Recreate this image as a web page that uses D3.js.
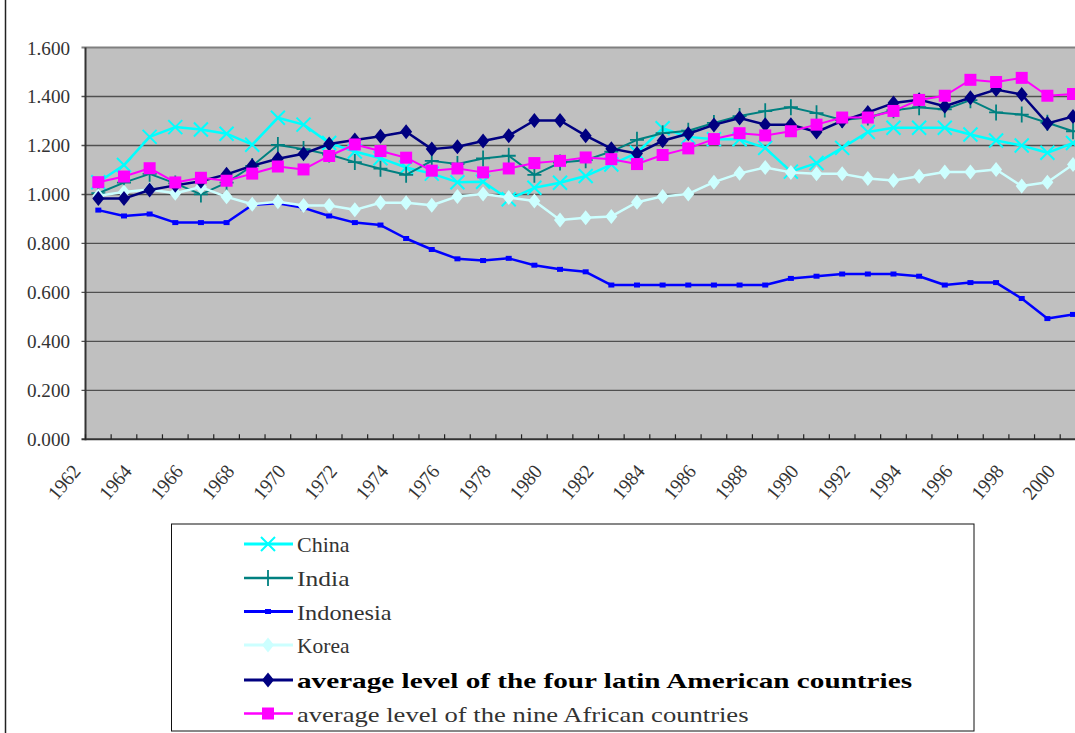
<!DOCTYPE html>
<html>
<head>
<meta charset="utf-8">
<title>Relative level chart</title>
<script src="https://d3js.org/d3.v7.min.js" charset="utf-8"></script>
<style>
  body { margin: 0; background: #fff; }
  svg { display: block; }
  .lbl { font-family: "Liberation Serif", "DejaVu Serif", serif; fill: #333; }
</style>
</head>
<body>
<script type="text/javascript">
// ---- data ----
var years = d3.range(1962, 2001);
var tickYears = years.filter(function(y) { return (y - 1962) % 2 === 0; });
var yTicks = [0, 0.2, 0.4, 0.6, 0.8, 1.0, 1.2, 1.4, 1.6];

var seriesNames = ["China", "India", "Indonesia", "Korea",
  "average level of the four latin American countries",
  "average level of the nine African countries"];

var china = [1.05, 1.12, 1.235, 1.275, 1.265, 1.248, 1.203, 1.313, 1.285, 1.21,
  1.175, 1.148, 1.11, 1.085, 1.05, 1.052, 0.98, 1.027, 1.048, 1.075,
  1.122, 1.17, 1.27, 1.235, 1.225, 1.225, 1.19, 1.093, 1.128, 1.19,
  1.255, 1.272, 1.272, 1.272, 1.245, 1.22, 1.2, 1.17, 1.21];
var india = [1.005, 1.048, 1.084, 1.045, 1.0, 1.048, 1.116, 1.202, 1.185, 1.163,
  1.132, 1.105, 1.08, 1.137, 1.124, 1.147, 1.158, 1.08, 1.13, 1.14,
  1.175, 1.223, 1.25, 1.26, 1.292, 1.32, 1.34, 1.356, 1.332, 1.304,
  1.314, 1.344, 1.356, 1.347, 1.385, 1.335, 1.326, 1.293, 1.258];
var indonesia = [0.936, 0.912, 0.92, 0.885, 0.885, 0.885, 0.957, 0.964, 0.945, 0.912,
  0.885, 0.875, 0.82, 0.775, 0.737, 0.73, 0.739, 0.711, 0.694, 0.684,
  0.63, 0.63, 0.63, 0.63, 0.63, 0.63, 0.63, 0.657, 0.666, 0.675,
  0.675, 0.675, 0.666, 0.63, 0.64, 0.64, 0.575, 0.493, 0.51];
var korea = [0.995, 1.01, 1.02, 1.005, 1.03, 0.99, 0.96, 0.97, 0.955, 0.955,
  0.937, 0.966, 0.966, 0.956, 0.992, 1.002, 0.987, 0.973, 0.896, 0.905,
  0.91, 0.968, 0.992, 1.002, 1.05, 1.086, 1.11, 1.09, 1.084, 1.084,
  1.065, 1.057, 1.074, 1.092, 1.092, 1.102, 1.034, 1.05, 1.122];
var latin = [0.983, 0.983, 1.018, 1.037, 1.054, 1.082, 1.117, 1.146, 1.166, 1.206,
  1.222, 1.238, 1.256, 1.185, 1.195, 1.218, 1.24, 1.302, 1.302, 1.24,
  1.187, 1.167, 1.219, 1.248, 1.284, 1.312, 1.285, 1.285, 1.255, 1.3,
  1.335, 1.373, 1.387, 1.36, 1.395, 1.428, 1.408, 1.29, 1.318];
var african = [1.05, 1.073, 1.107, 1.049, 1.068, 1.056, 1.085, 1.114, 1.102, 1.157,
  1.204, 1.177, 1.15, 1.097, 1.106, 1.09, 1.106, 1.128, 1.137, 1.151,
  1.144, 1.124, 1.161, 1.188, 1.226, 1.25, 1.241, 1.258, 1.285, 1.314,
  1.314, 1.341, 1.386, 1.403, 1.468, 1.459, 1.476, 1.403, 1.41];

var seriesValues = [china, india, indonesia, korea, latin, african];
var seriesColors = ["#00ffff", "#008080", "#0000ff", "#ccffff", "#000080", "#ff00ff"];
var seriesMarkers = ["x", "plus", "dash", "diamond", "diamond", "square"];
var seriesWidths = [2.5, 2, 2.5, 2.5, 2.5, 2];

// ---- layout ----
var W = 1075, H = 733;
var plotL = 85.5, plotT = 47.5, plotB = 439.3;
var band = 25.65;
var plotR = plotL + band * years.length;

var svg = d3.select("body").append("svg").attr("width", W).attr("height", H);

var x = d3.scaleBand().domain(years).range([plotL, plotR]);
var y = d3.scaleLinear().domain([0, 1.6]).range([plotB, plotT]);

function gpos(px, py) {
  return "translate(" + px + "," + py + ")";
}

function markerPath(kind) {
  if (kind == "x") return "M-7,-7L7,7M-7,7L7,-7";
  if (kind == "plus") return "M-7,0L7,0M0,-8L0,8";
  if (kind == "dash") return "M-3,-2.5H3V2.5H-3Z";
  if (kind == "diamond") return "M0,-7.5L6,0L0,7.5L-6,0Z";
  return "M-6,-6H6V6H-6Z";
}

function drawMarker(g, kind, color) {
  var p = g.append("path").attr("d", markerPath(kind));
  if (kind == "x" || kind == "plus") {
    p.attr("fill", "none").attr("stroke", color).attr("stroke-width", kind == "x" ? 2 : 1.8);
  } else {
    p.attr("fill", color).attr("stroke", "none");
  }
  return p;
}

// chart border on the left edge
svg.append("line").attr("x1", 5.5).attr("x2", 5.5).attr("y1", 0).attr("y2", H)
  .attr("stroke", "#222").attr("stroke-width", 1.5);

// plot background
svg.append("rect").attr("x", plotL).attr("y", plotT)
  .attr("width", plotR - plotL).attr("height", plotB - plotT)
  .attr("fill", "#c0c0c0");

// gridlines + y labels
svg.append("g").selectAll("line").data(yTicks.slice(1)).enter().append("line")
  .attr("x1", plotL - 4).attr("x2", plotR)
  .attr("y1", function(d) { return y(d); }).attr("y2", function(d) { return y(d); })
  .attr("stroke", function(d) { return d == 1.6 ? "#808080" : "#505050"; })
  .attr("stroke-width", function(d) { return d == 1.6 ? 2.2 : 1.4; });

svg.append("g").selectAll("text").data(yTicks).enter().append("text")
  .attr("class", "lbl")
  .attr("x", 70).attr("y", function(d) { return y(d) + 7; })
  .attr("text-anchor", "end")
  .attr("font-size", 19)
  .attr("textLength", 43).attr("lengthAdjust", "spacingAndGlyphs")
  .text(d3.format(".3f"));

// axes lines
svg.append("line").attr("x1", plotL).attr("x2", plotL).attr("y1", plotT).attr("y2", plotB + 1)
  .attr("stroke", "#333").attr("stroke-width", 2);
svg.append("line").attr("x1", plotL - 4).attr("x2", plotR).attr("y1", plotB).attr("y2", plotB)
  .attr("stroke", "#333").attr("stroke-width", 2);

// x ticks at band edges, pointing up into the plot
svg.append("g").selectAll("line").data(years).enter().append("line")
  .attr("x1", function(d) { return x(d); }).attr("x2", function(d) { return x(d); })
  .attr("y1", plotB).attr("y2", plotB - 5)
  .attr("stroke", "#222").attr("stroke-width", 1.2);

// x labels, rotated
svg.append("g").selectAll("text").data(tickYears).enter().append("text")
  .attr("class", "lbl")
  .attr("font-size", 20)
  .attr("text-anchor", "end")
  .attr("textLength", 38).attr("lengthAdjust", "spacingAndGlyphs")
  .attr("transform", function(d) { return gpos(x(d) - 4, 472) + " rotate(-50)"; })
  .text(function(d) { return d; });

// series
var line = d3.line()
  .x(function(d, i) { return x(years[i]) + x.bandwidth() / 2; })
  .y(function(d) { return y(d); });

seriesValues.forEach(function(vals, s) {
  var g = svg.append("g").attr("class", "series");
  g.append("path").datum(vals)
    .attr("d", line)
    .attr("fill", "none")
    .attr("stroke", seriesColors[s])
    .attr("stroke-width", seriesWidths[s])
    .attr("stroke-linejoin", "round");
  vals.forEach(function(v, i) {
    var m = g.append("g").attr("transform", gpos(x(years[i]) + x.bandwidth() / 2, y(v)));
    drawMarker(m, seriesMarkers[s], seriesColors[s]);
  });
});

// legend
var legL = 171.5, legT = 524, legR = 974, legB = 731;
svg.append("rect").attr("x", legL).attr("y", legT)
  .attr("width", legR - legL).attr("height", legB - legT)
  .attr("fill", "#fff").attr("stroke", "#111").attr("stroke-width", 1);

var legRows = [544, 578, 611.5, 645, 680, 713.5];
seriesNames.forEach(function(name, s) {
  var ly = legRows[s];
  var g = svg.append("g").attr("transform", gpos(0, ly));
  g.append("line").attr("x1", 244).attr("x2", 293).attr("y1", 0).attr("y2", 0)
    .attr("stroke", seriesColors[s]).attr("stroke-width", seriesWidths[s] + 0.5);
  drawMarker(g.append("g").attr("transform", gpos(268, 0)), seriesMarkers[s], seriesColors[s]);
  var bold = s == 4;
  g.append("text").attr("class", "lbl")
    .attr("x", 297).attr("y", 8)
    .attr("font-size", 22)
    .attr("font-weight", bold ? "bold" : "normal")
    .style("fill", bold ? "#000" : "#333")
    .attr("textLength", name.length * (bold ? 12.3 : 10.5))
    .attr("lengthAdjust", "spacingAndGlyphs")
    .text(name);
});
</script>
</body>
</html>
